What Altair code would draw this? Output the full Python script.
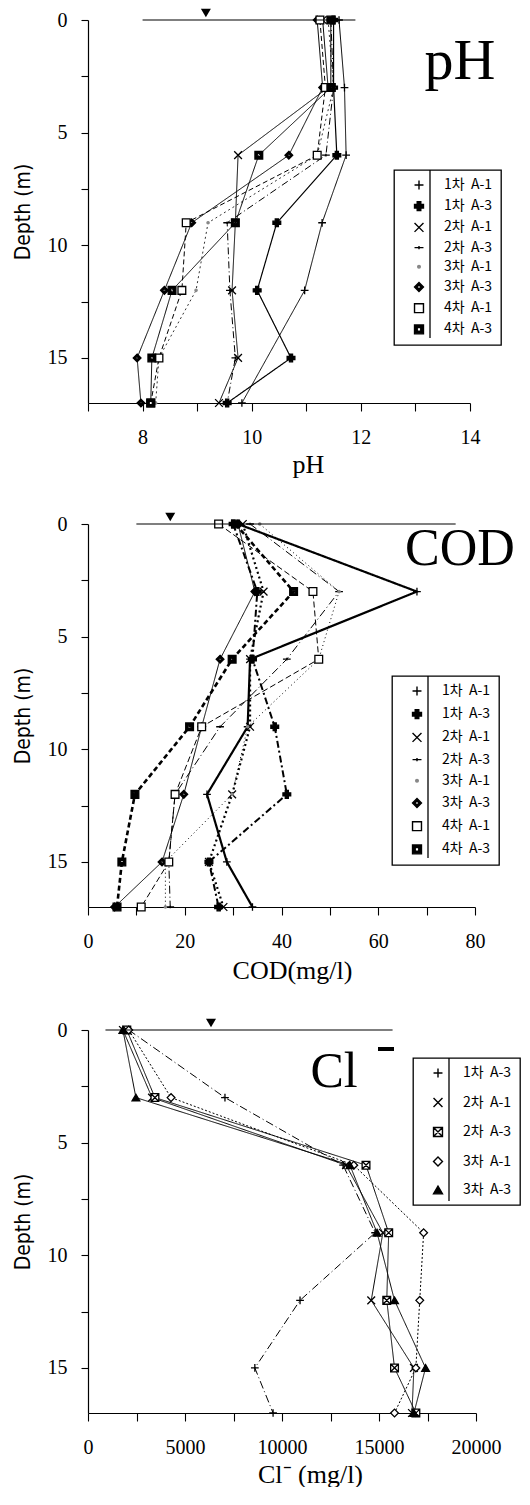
import altair as alt
import pandas as pd

# ---------------- data ----------------
DEPTHS = [0, 3, 6, 9, 12, 15, 17]
SER8 = ["1차 A-1", "1차 A-3", "2차 A-1", "2차 A-3", "3차 A-1", "3차 A-3", "4차 A-1", "4차 A-3"]
SER_CL = ["1차 A-3", "2차 A-1", "2차 A-3", "3차 A-1", "3차 A-3"]

# pH
ph_1a1 = [11.60, 11.70, 11.73, 11.29, 10.97, None, 9.82]
ph_1a3 = [11.50, 11.50, 11.56, 10.46, 10.10, 10.72, 9.55]
ph_2a1 = [11.30, 11.40, 9.75, 9.70, 9.64, 9.75, 9.40]
ph_2a3 = [11.45, 11.50, 11.36, 9.55, 9.60, 9.70, 9.55]
ph_3a1 = [11.40, 11.50, 11.20, 9.20, 8.98, 8.30, 8.24]
ph_3a3 = [11.20, 11.30, 10.68, 8.90, 8.40, 7.90, 7.97]
ph_4a1 = [11.25, 11.35, 11.20, 8.80, 8.72, 8.30, 8.15]
ph_4a3 = [11.45, 11.45, 10.13, 9.70, 8.54, 8.17, 8.15]
ph_water = [8.0, 11.9]
ph_water_mark = 9.16

# COD (mg/l)
cod_1a1 = [31.0, 68.0, 33.5, 33.0, 24.6, 28.7, 34.0]
cod_1a3 = [30.0, 35.0, 34.0, 38.6, 41.1, 25.0, 27.0]
cod_2a1 = [32.0, 36.3, 33.5, 33.5, 29.8, 25.0, 28.0]
cod_2a3 = [33.5, 51.9, 41.1, 27.3, 18.0, 16.7, 17.0]
cod_3a1 = [35.5, 51.9, 47.7, 33.0, 29.8, 16.0, 16.0]
cod_3a3 = [31.0, 34.5, 27.3, 23.5, 19.8, 15.3, 5.5]
cod_4a1 = [27.0, 46.5, 47.7, 23.5, 18.0, 16.7, 11.0]
cod_4a3 = [30.5, 42.5, 29.8, 21.0, 9.7, 7.0, 6.0]
cod_water = [10.0, 76.0]
cod_water_mark = 17.0

# Cl- (mg/l)
cl_1a3 = [2100, 7060, 13150, 14800, 10930, 8600, 9540]
cl_2a1 = [1800, 3300, 13300, 15200, 14600, 16800, 16700]
cl_2a3 = [2000, 3450, 14330, 15500, 15400, 15800, 16900]
cl_3a1 = [2100, 4280, 13700, 17300, 17100, 16900, 15800]
cl_3a3 = [1800, 2470, 13500, 14900, 15800, 17400, 16800]
cl_water = [900, 15700]
cl_water_mark = 6340

# ---------------- styles ----------------
P_THIN = "M-1,0L1,0M0,-1L0,1"
P_X = "M-1,-1L1,1M-1,1L1,-1"
P_DASH = "M-1,0L1,0M0,-0.35L0,0.35"
P_DOT = "M-0.3,0A0.3,0.3 0 1,0 0.3,0A0.3,0.3 0 1,0 -0.3,0Z"
P_DIAM = "M0,-1L1,0L0,1L-1,0Z M0,-0.45L-0.45,0L0,0.45L0.45,0Z"
P_SQDOT = "M-1,-1L1,-1L1,1L-1,1Z M-0.4,-0.4L-0.4,0.4L0.4,0.4L0.4,-0.4Z"
P_SQX = "M-1,-1L1,-1L1,1L-1,1Z M-1,-1L1,1 M1,-1L-1,1"

SHAPES8 = [P_THIN, "cross", P_X, P_DASH, P_DOT, P_DIAM, "square", P_SQDOT]
FILLS8 = ["black", "black", "black", "black", "#888888", "black", "white", "black"]
STROKES8 = ["black", "black", "black", "black", "#888888", "black", "black", "black"]

PH_DASH = [[1, 0], [1, 0], [1, 0], [7, 3, 1, 3], [2, 3], [1, 0], [5, 3], [1, 0]]
PH_W = [1.0, 1.2, 1.0, 1.0, 0.8, 1.0, 1.0, 1.0]
COD_DASH = [[1, 0], [7, 3, 2, 3], [2, 3], [8, 3, 1, 3], [1, 3], [1, 0], [6, 3], [5, 3]]
COD_W = [2.2, 2.0, 2.2, 1.0, 1.0, 1.0, 1.0, 2.6]

SHAPES_CL = [P_THIN, P_X, P_SQX, "diamond", "triangle-up"]
FILLS_CL = ["black", "black", "white", "white", "black"]
STROKES_CL = ["black"] * 5
CL_DASH = [[8, 3, 1, 3], [1, 0], [1, 0], [2, 2], [1, 0]]
CL_W = [1.0, 1.0, 1.0, 1.0, 1.0]

SERIF = "Liberation Serif"
NARROW = "Liberation Sans Narrow, DejaVu Sans Condensed, sans-serif"
KR = "Noto Sans CJK KR"
NB = "\u00a0\u00a0"


def long(names, arrays):
    rows = []
    for s, arr in zip(names, arrays):
        for d, v in zip(DEPTHS, arr):
            if v is not None:
                rows.append({"series": s, "depth": d, "value": v})
    return pd.DataFrame(rows)


def panel(df, names, shapes, fills, strokes, dashes, widths, xdom, xticks, step, xtitle,
          title_x, title_pad, width, water, water_mark, leg, big_title, extra=None):
    height = 383
    X = alt.X("value:Q", scale=alt.Scale(domain=xdom, nice=False, zero=False),
              axis=alt.Axis(values=xticks, format="d",
                            labelExpr=f"datum.value % {step} == 0 ? datum.label : ''",
                            title=xtitle, titleX=title_x, tickSize=8,
                            labelPadding=16, titlePadding=title_pad, labelFlush=False))
    Y = alt.Y("depth:Q", scale=alt.Scale(domain=[0, 17], reverse=True, nice=False, zero=False),
              axis=alt.Axis(values=[0, 2.5, 5, 7.5, 10, 12.5, 15],
                            labelExpr="datum.value % 5 == 0 ? datum.label : ''",
                            title="Depth (m)", titleFont=NARROW, titleFontSize=21,
                            tickSize=7, labelPadding=14, titlePadding=14))
    base = alt.Chart(df)
    layers = []
    for s, d, w in zip(names, dashes, widths):
        layers.append(
            base.transform_filter(alt.datum.series == s)
            .mark_line(color="black", strokeWidth=w, strokeDash=d)
            .encode(x=X, y=Y, order=alt.Order("depth:Q"))
        )
    lx, ly, lh, rp, sep = leg
    legend = alt.Legend(title=None, orient="none", legendX=lx, legendY=ly,
                        strokeColor="black", padding=8, symbolOffset=10,
                        symbolSize=80, symbolStrokeWidth=1.4,
                        labelFont=KR, labelFontSize=14, labelOffset=18,
                        labelExpr=f"replace(datum.label, ' ', '{NB}')",
                        rowPadding=rp)
    pts = base.mark_point(strokeWidth=1.3, size=60, opacity=1).encode(
        x=X, y=Y,
        shape=alt.Shape("series:N", scale=alt.Scale(domain=names, range=shapes), legend=legend),
        fill=alt.Fill("series:N", scale=alt.Scale(domain=names, range=fills), legend=legend),
        stroke=alt.Stroke("series:N", scale=alt.Scale(domain=names, range=strokes), legend=legend),
    )
    layers.append(pts)
    wdf = pd.DataFrame({"value": [water[0]], "value2": [water[1]], "depth": [0]})
    layers.append(alt.Chart(wdf).mark_rule(color="black", strokeWidth=1.2).encode(
        x=X, x2="value2:Q", y=Y))
    mdf = pd.DataFrame({"value": [water_mark], "depth": [0]})
    layers.append(alt.Chart(mdf).mark_point(shape="triangle-down", filled=True, color="black",
                                            size=100, opacity=1, yOffset=-7).encode(x=X, y=Y))
    one = pd.DataFrame({"t": [big_title[0]]})
    layers.append(alt.Chart(one).mark_rule(color="black", strokeWidth=1.3).encode(
        x=alt.value(lx + sep), y=alt.value(ly), y2=alt.value(ly + lh)))
    layers.append(alt.Chart(one).mark_text(font=SERIF, fontSize=big_title[3], align="center",
                                           baseline="middle", color="black").encode(
        x=alt.value(big_title[1]), y=alt.value(big_title[2]), text="t:N"))
    if extra is not None:
        layers.append(extra)
    return alt.layer(*layers).properties(width=width, height=height)


ph_df = long(SER8, [ph_1a1, ph_1a3, ph_2a1, ph_2a3, ph_3a1, ph_3a3, ph_4a1, ph_4a3])
cod_df = long(SER8, [cod_1a1, cod_1a3, cod_2a1, cod_2a3, cod_3a1, cod_3a3, cod_4a1, cod_4a3])
cl_df = long(SER_CL, [cl_1a3, cl_2a1, cl_2a3, cl_3a1, cl_3a3])

ph_chart = panel(ph_df, SER8, SHAPES8, FILLS8, STROKES8, PH_DASH, PH_W, [7, 14], list(range(7, 15)), 2,
                 "pH", 220, 4, 382, ph_water, ph_water_mark,
                 (306, 150, 168, 5.2, 36), ("pH", 372, 42, 58))
cod_chart = panel(cod_df, SER8, SHAPES8, FILLS8, STROKES8, COD_DASH, COD_W, [0, 80], list(range(0, 81, 10)), 20,
                  "COD(mg/l)", 204, 6, 387, cod_water, cod_water_mark,
                  (304, 152, 182, 7.2, 36), ("COD", 372, 25, 52))
cl_minus = alt.Chart(pd.DataFrame({"t": ["-"]})).mark_rule(color="black", strokeWidth=4).encode(
    x=alt.value(290), x2=alt.value(306), y=alt.value(19))
cl_chart = panel(cl_df, SER_CL, SHAPES_CL, FILLS_CL, STROKES_CL, CL_DASH, CL_W, [0, 20000],
                 list(range(0, 20001, 2500)), 5000,
                 "Cl⁻ (mg/l)", 222, 4, 388, cl_water, cl_water_mark,
                 (325, 28, 143, 13.5, 36), ("Cl", 246, 42, 50), extra=cl_minus)

chart = alt.vconcat(ph_chart, cod_chart, cl_chart, spacing=35).resolve_scale(
    x="independent", shape="independent", fill="independent", stroke="independent"
).properties(
    padding={"top": 0, "left": 4, "right": 0, "bottom": 0}
).configure_view(stroke=None).configure_axis(
    domainColor="black", domainWidth=1.2, tickColor="black", tickWidth=1.1,
    labelFont=SERIF, labelFontSize=20, labelColor="black",
    titleFont=SERIF, titleFontSize=26, titleFontWeight="normal", titleColor="black",
    grid=False
).configure_legend(strokeWidth=1.3)

chart.save("out.html", embed_options={"renderer": "svg", "actions": False})
